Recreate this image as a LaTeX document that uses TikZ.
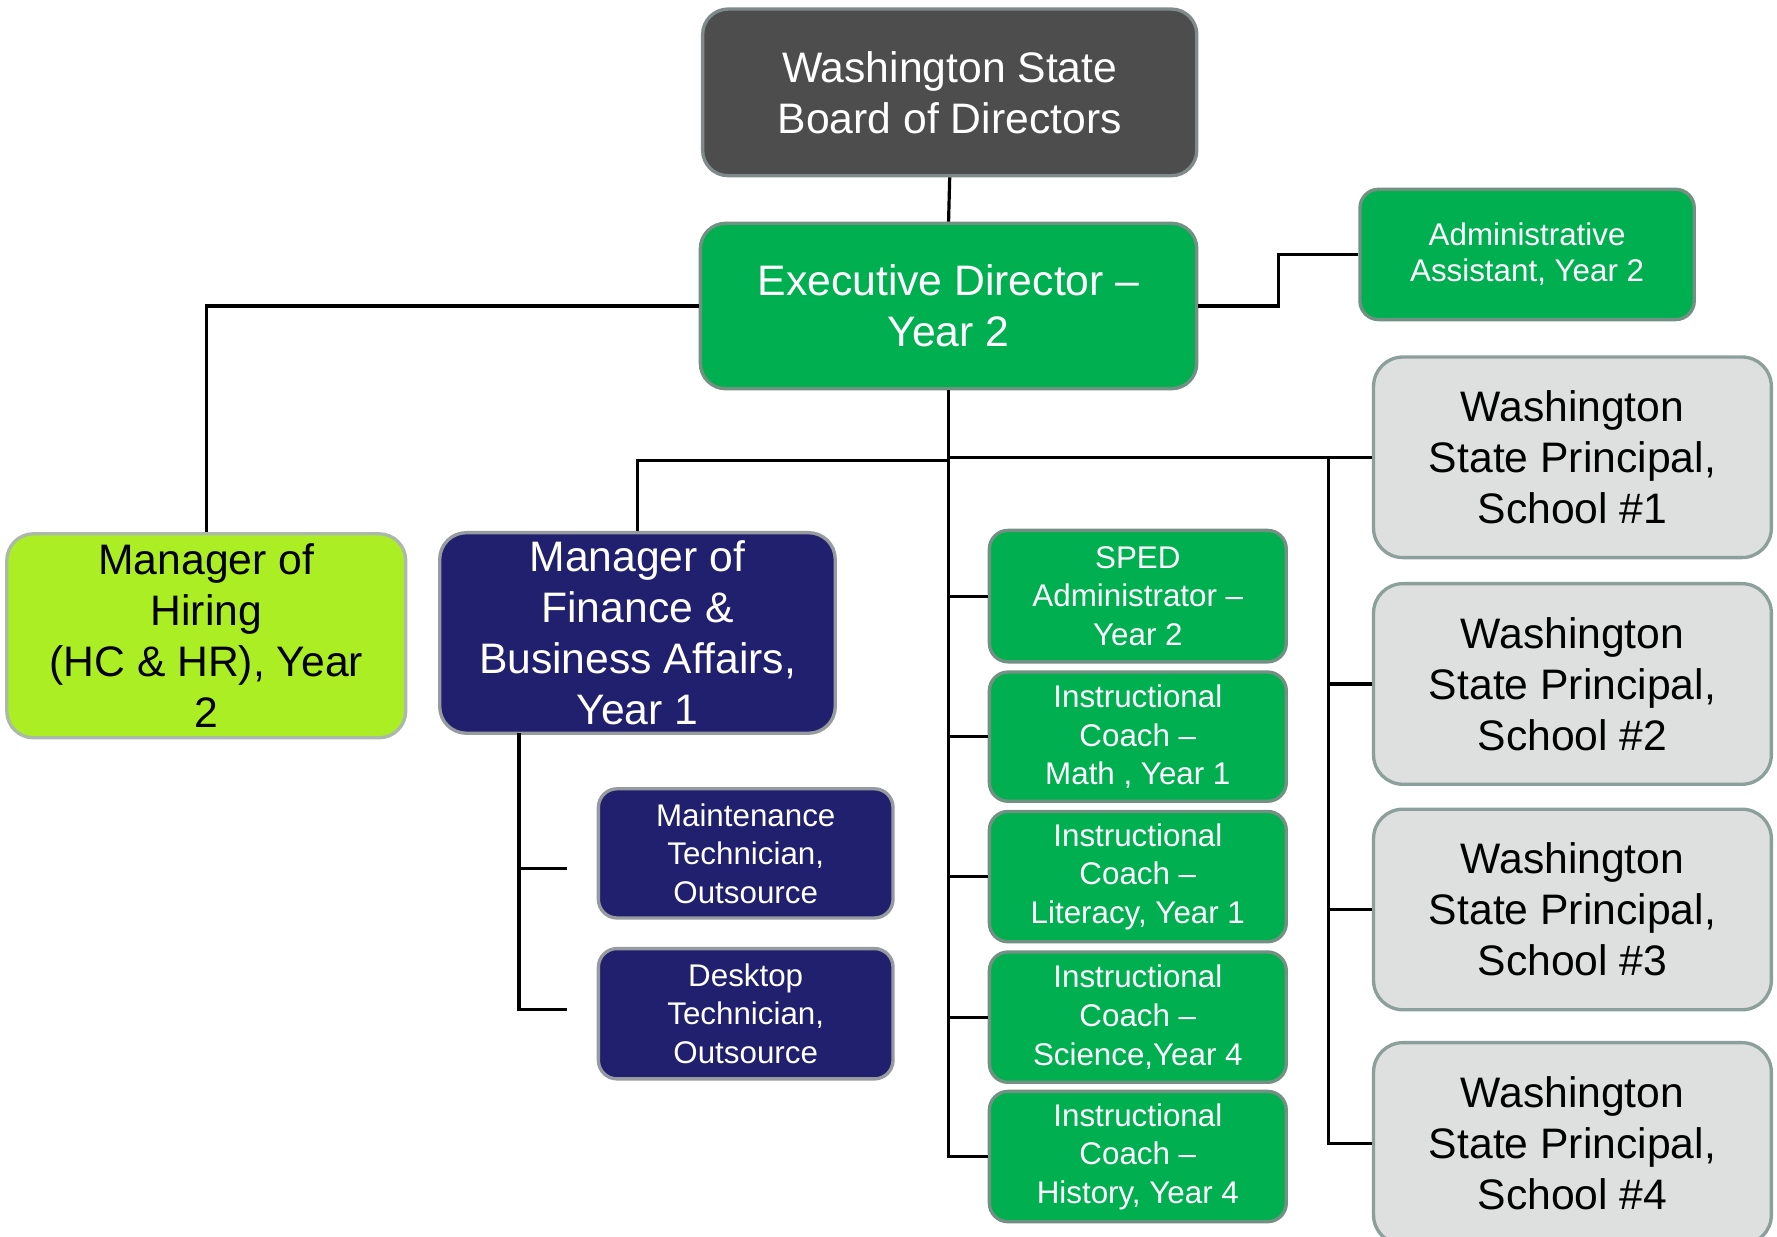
\documentclass[tikz,border=0pt]{standalone}
\usepackage{fontspec}
\setmainfont{Liberation Sans}
\definecolor{boardfill}{RGB}{77,77,77}
\definecolor{boardline}{RGB}{128,138,138}
\definecolor{grnfill}{RGB}{0,176,80}
\definecolor{grnline}{RGB}{115,145,130}
\definecolor{hirefill}{RGB}{172,238,36}
\definecolor{hireline}{RGB}{170,185,170}
\definecolor{navyfill}{RGB}{32,32,110}
\definecolor{navyline}{RGB}{150,155,160}
\definecolor{princfill}{RGB}{222,223,223}
\definecolor{princline}{RGB}{140,160,155}
\begin{document}
\begin{tikzpicture}[x=0.85pt,y=-0.85pt,
  sz/.style 2 args={minimum width={(#1)*0.85pt}, minimum height={(#2)*0.85pt}},
  box/.style={rectangle, line width=2.5pt, align=center, inner sep=0pt},
  bigtxt/.style={font=\fontsize{32}{38.3}\selectfont},
  smtxt/.style={font=\fontsize{23.5}{28.9}\selectfont},
  admtxt/.style={font=\fontsize{23.5}{27.2}\selectfont},
  boardbox/.style={box, bigtxt, fill=boardfill, draw=boardline, text=white, rounded corners=19pt},
  execbox/.style={box, bigtxt, fill=grnfill, draw=grnline, text=white, rounded corners=19pt},
  grnbox/.style={box, smtxt, fill=grnfill, draw=grnline, text=white, rounded corners=14pt},
  hirebox/.style={box, bigtxt, fill=hirefill, draw=hireline, text=black, rounded corners=20pt},
  navybig/.style={box, bigtxt, fill=navyfill, draw=navyline, text=white, rounded corners=20pt},
  navysm/.style={box, smtxt, fill=navyfill, draw=navyline, text=white, rounded corners=14pt},
  princbox/.style={box, bigtxt, fill=princfill, draw=princline, text=black, rounded corners=22pt},
  conn/.style={line width=2.4pt, black}
]
\useasboundingbox (0,0) rectangle (1568,1091.5);

% nodes
\node[boardbox, sz={436}{147}] (board) at (838,81.5) {Washington State\\Board of Directors};
\node[execbox, sz={438}{146}] (exec) at (837,270) {Executive Director –\\Year 2};
\node[grnbox, admtxt, sz={295}{115}] (admin) at (1347.5,224.5) {Administrative\\Assistant, Year 2};
\node[hirebox, sz={352}{180}] (hiring) at (182,561) {Manager of\\Hiring\\(HC \& HR), Year\\2};
\node[navybig, sz={349}{177}] (finance) at (562.5,558.5) {Manager of\\Finance \&\\Business Affairs,\\Year 1};
\node[navysm, sz={260}{114}] (maint) at (658,753) {Maintenance\\Technician,\\Outsource};
\node[navysm, sz={260}{115}] (desk) at (658,894.5) {Desktop\\Technician,\\Outsource};
\node[grnbox, sz={262}{116}] (sped) at (1004,526) {SPED\\Administrator –\\Year 2};
\node[grnbox, sz={262}{114}] (math) at (1004,650) {Instructional\\Coach –\\Math , Year 1};
\node[grnbox, sz={262}{115}] (lit) at (1004,773.5) {Instructional\\Coach –\\Literacy, Year 1};
\node[grnbox, sz={262}{115}] (sci) at (1004,897.5) {Instructional\\Coach –\\Science,Year 4};
\node[grnbox, sz={262}{115}] (hist) at (1004,1020.5) {Instructional\\Coach –\\History, Year 4};
\node[princbox, sz={351}{177}] (p1) at (1387.5,403.5) {Washington\\State Principal,\\School \#1};
\node[princbox, sz={351}{177}] (p2) at (1387.5,603.5) {Washington\\State Principal,\\School \#2};
\node[princbox, sz={351}{177}] (p3) at (1387.5,802.5) {Washington\\State Principal,\\School \#3};
\node[princbox, sz={351}{178}] (p4) at (1387.5,1009) {Washington\\State Principal,\\School \#4};

% junction coordinates
\coordinate (ja) at (1128,270);
\coordinate (jf) at (837,406);
\coordinate (jp) at (1172,403.5);
\coordinate (fs) at (458,647);
\coordinate (fm) at (500,766);
\coordinate (fd) at (500,891);

% connectors
\draw[conn] (board.south) -- (exec.north);
\draw[conn] (exec.west) -| (hiring.north);
\draw[conn] (exec.east) -- (ja) |- (admin.west);
\draw[conn] (exec.south) |- (hist.west);
\draw[conn] (exec.south |- sped.west) -- (sped.west);
\draw[conn] (exec.south |- math.west) -- (math.west);
\draw[conn] (exec.south |- lit.west) -- (lit.west);
\draw[conn] (exec.south |- sci.west) -- (sci.west);
\draw[conn] (jf) -| (finance.north);
\draw[conn] (exec.south |- p1.west) -- (p1.west);
\draw[conn] (jp) |- (p4.west);
\draw[conn] (jp |- p2.west) -- (p2.west);
\draw[conn] (jp |- p3.west) -- (p3.west);
\draw[conn] (fs) |- (fd);
\draw[conn] (fs |- fm) -- (fm);
\end{tikzpicture}
\end{document}
